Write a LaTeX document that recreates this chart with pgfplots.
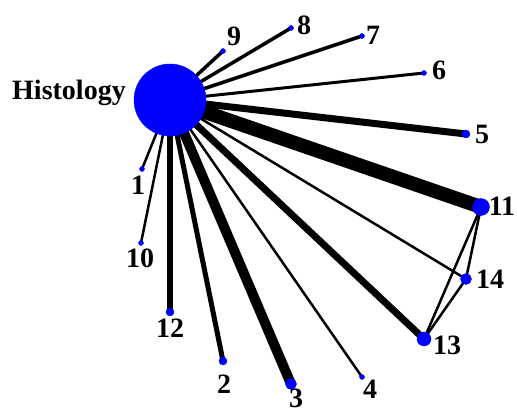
\documentclass[border=0pt]{standalone}
\usepackage{fontspec}
\setmainfont{Liberation Serif}
\usepackage{pgfplots}
\pgfplotsset{compat=1.18}
\definecolor{nodeblue}{RGB}{0,0,255}
\begin{document}
\begin{tikzpicture}
\begin{axis}[
  width=517pt, height=414pt, scale only axis,
  xmin=0, xmax=517, ymin=0, ymax=414, y dir=reverse,
  hide axis, clip=false,
  every axis plot/.append style={black, line cap=butt},
]
% edges
\addplot[line width=14pt] coordinates {(170,100) (481,207)};
\addplot[line width=10pt] coordinates {(170,100) (291,384)};
\addplot[line width=7pt] coordinates {(170,100) (466,134)};
\addplot[line width=7pt] coordinates {(170,100) (424,339)};
\addplot[line width=6pt] coordinates {(170,100) (170,312)};
\addplot[line width=5pt] coordinates {(170,100) (223,361)};
\addplot[line width=3.5pt] coordinates {(170,100) (223,51)};
\addplot[line width=3.5pt] coordinates {(170,100) (291,28)};
\addplot[line width=3.5pt] coordinates {(170,100) (362,36)};
\addplot[line width=3pt] coordinates {(170,100) (424,73)};
\addplot[line width=2.5pt] coordinates {(170,100) (466,279)};
\addplot[line width=2.5pt] coordinates {(170,100) (362,377)};
\addplot[line width=2.5pt] coordinates {(170,100) (142,169)};
\addplot[line width=2.5pt] coordinates {(170,100) (141,243)};
\addplot[line width=2.5pt] coordinates {(481,207) (466,279)};
\addplot[line width=2.5pt] coordinates {(481,207) (424,339)};
\addplot[line width=2.5pt] coordinates {(466,279) (424,339)};
% nodes
\addplot[only marks, mark=*, mark size=36pt, nodeblue, mark options={draw=nodeblue, fill=nodeblue}] coordinates {(170,100)};
\addplot[only marks, mark=*, mark size=8.5pt, nodeblue, mark options={draw=nodeblue, fill=nodeblue}] coordinates {(481,207)};
\addplot[only marks, mark=*, mark size=7pt, nodeblue, mark options={draw=nodeblue, fill=nodeblue}] coordinates {(424,339)};
\addplot[only marks, mark=*, mark size=5.5pt, nodeblue, mark options={draw=nodeblue, fill=nodeblue}] coordinates {(466,279) (291,384)};
\addplot[only marks, mark=*, mark size=4pt, nodeblue, mark options={draw=nodeblue, fill=nodeblue}] coordinates {(223,361) (170,312) (466,134)};
\addplot[only marks, mark=*, mark size=2.5pt, nodeblue, mark options={draw=nodeblue, fill=nodeblue}] coordinates {(362,377) (424,73) (362,36) (291,28) (223,51) (141,243) (142,169)};
% labels
\begin{scope}[every node/.style={font=\fontsize{28}{30}\selectfont\bfseries, inner sep=0pt, anchor=base}]
\node[anchor=base west] at (axis cs:12,100) {Histology};
\node at (axis cs:234,46) {9};
\node at (axis cs:304,35) {8};
\node at (axis cs:373,45) {7};
\node at (axis cs:439,80) {6};
\node at (axis cs:482,144) {5};
\node at (axis cs:502,216) {11};
\node at (axis cs:490,289) {14};
\node at (axis cs:447,355) {13};
\node at (axis cs:370,399) {4};
\node at (axis cs:296,407) {3};
\node at (axis cs:224,393) {2};
\node at (axis cs:170,338) {12};
\node at (axis cs:140,268) {10};
\node at (axis cs:138,195) {1};
\end{scope}
\end{axis}
\pgfresetboundingbox
\path (current axis.south west) rectangle (current axis.north east);
\end{tikzpicture}
\end{document}
